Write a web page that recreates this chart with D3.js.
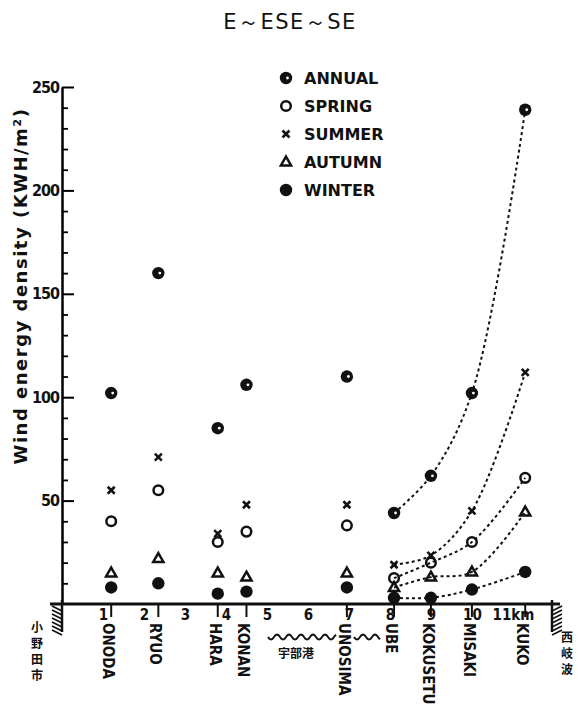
<!DOCTYPE html>
<html>
<head>
<meta charset="utf-8">
<script src="https://cdn.jsdelivr.net/npm/d3@7"></script>
<style>
  body { margin: 0; background: #fff; }
  text { fill: #111; }
</style>
</head>
<body>
<div id="chart"></div>
<script>
// Station names and their distance along the coast (km)
var stations = ["ONODA", "RYUO", "HARA", "KONAN", "UNOSIMA", "UBE", "KOKUSETU", "MISAKI", "KUKO"];
var distances = [1.2, 2.35, 3.8, 4.5, 6.95, 8.1, 9.0, 10.0, 11.3];

// Wind energy density per season (KWH/m2)
var annual = [102, 160, 85, 106, 110, 44, 62, 102, 239];
var spring = [40, 55, 30, 35, 38, 12.5, 20, 30, 61];
var summer = [55, 71, 34, 48, 48, 19, 23.5, 45, 112];
var autumn = [15, 22, 15, 13, 15, 8, 13, 15.5, 44.5];
var winter = [8, 10, 5, 6, 8, 3, 3, 7, 15.5];

var seriesNames = ["ANNUAL", "SPRING", "SUMMER", "AUTUMN", "WINTER"];
var kmTicks = [1, 2, 3, 4, 5, 6, 7, 8, 9, 10, 11];
var yTicks = [50, 100, 150, 200, 250];

var width = 578;
var height = 706;

var svg = d3.select("#chart")
  .append("svg")
  .attr("width", width)
  .attr("height", height);

var x = d3.scaleLinear().domain([0, 12.1]).range([62, 558]);
var y = d3.scaleLinear().domain([0, 250]).range([604, 87]);

var condensed = "'Liberation Sans Narrow', 'DejaVu Sans Condensed', sans-serif";

// Title
svg.append("text")
  .attr("x", 290)
  .attr("y", 29)
  .attr("text-anchor", "middle")
  .style("font-family", "'DejaVu Sans', sans-serif")
  .style("font-size", "21px")
  .style("letter-spacing", "1.5px")
  .text("E～ESE～SE");

// Y axis: major ticks labelled, minor ticks every 10
var yAxis = svg.append("g")
  .attr("transform", "translate(" + x(0) + ",0)")
  .call(d3.axisLeft(y).tickValues(yTicks).tickSizeInner(-12).tickSizeOuter(0).tickPadding(3));
yAxis.select(".domain").attr("stroke-width", 2.5);
yAxis.selectAll(".tick line").attr("stroke-width", 2);
yAxis.selectAll("text")
  .style("font-family", condensed)
  .style("font-size", "16px")
  .style("font-weight", "bold")
  .style("letter-spacing", "-1px");

svg.append("g")
  .attr("transform", "translate(" + x(0) + ",0)")
  .call(d3.axisLeft(y).tickValues(d3.range(10, 250, 10).filter(function(d) { return d % 50 !== 0; }))
    .tickSizeInner(-6).tickSizeOuter(0).tickFormat(""))
  .call(function(g) { g.select(".domain").remove(); })
  .selectAll(".tick line").attr("stroke-width", 1.8);

// Y axis title
svg.append("text")
  .attr("transform", "translate(27,286) rotate(-90)")
  .attr("text-anchor", "middle")
  .style("font-family", "'DejaVu Sans', sans-serif")
  .style("font-size", "18px")
  .style("font-weight", "bold")
  .style("letter-spacing", "1.5px")
  .text("Wind  energy  density (KWH/m²)");

// X axis line
svg.append("line")
  .attr("x1", 50).attr("x2", 560)
  .attr("y1", y(0)).attr("y2", y(0))
  .attr("stroke", "#111")
  .attr("stroke-width", 3);

// Distance ticks (km)
var xAxis = svg.append("g")
  .attr("transform", "translate(0," + y(0) + ")")
  .call(d3.axisBottom(x).tickValues(kmTicks).tickSize(0).tickPadding(5)
    .tickFormat(function(d) { return d === 11 ? "11km" : d; }));
xAxis.select(".domain").remove();
xAxis.selectAll("text")
  .style("font-family", condensed)
  .style("font-size", "15px")
  .style("font-weight", "bold");

// Station ticks and names
svg.selectAll(".stick")
  .data(distances)
  .enter()
  .append("line")
  .attr("class", "stick")
  .attr("x1", function(d) { return x(d); })
  .attr("x2", function(d) { return x(d); })
  .attr("y1", y(0))
  .attr("y2", y(0) + 13)
  .attr("stroke", "#111")
  .attr("stroke-width", 2);

svg.selectAll(".sname")
  .data(stations)
  .enter()
  .append("text")
  .attr("class", "sname")
  .attr("transform", function(d, i) { return "translate(" + (x(distances[i]) - 8) + "," + (y(0) + 19) + ") rotate(90)"; })
  .style("font-family", "'DejaVu Sans Condensed', 'DejaVu Sans', sans-serif")
  .style("font-size", "15px")
  .style("font-weight", "bold")
  .text(function(d) { return d; });

// End walls (hatched)
function wall(x0, dir) {
  var g = svg.append("g");
  g.append("line")
    .attr("x1", x0).attr("x2", x0)
    .attr("y1", y(0) - 4).attr("y2", y(0) + 28)
    .attr("stroke", "#111").attr("stroke-width", 2.5);
  d3.range(0, 7).forEach(function(i) {
    var yy = y(0) + 2 + i * 4;
    g.append("line")
      .attr("x1", x0).attr("x2", x0 + dir * 10)
      .attr("y1", yy + 5).attr("y2", yy)
      .attr("stroke", "#111").attr("stroke-width", 1.6);
  });
}
wall(62, -1);
wall(552, 1);

// Place names at both ends
function vertText(str, xx, y0, size, step) {
  svg.append("g").selectAll("text")
    .data(str.split(""))
    .enter()
    .append("text")
    .attr("x", xx)
    .attr("y", function(d, i) { return y0 + i * step; })
    .attr("text-anchor", "middle")
    .style("font-family", "'Noto Sans CJK JP', sans-serif")
    .style("font-size", size + "px")
    .style("font-weight", "bold")
    .text(function(d) { return d; });
}
vertText("小野田市", 37, 632, 12, 16);
vertText("西岐波", 567, 642, 12, 16);

// Ube harbour (wavy coastline)
function wave(x1, x2, yy) {
  var pts = d3.range(x1, x2 + 0.1, 1).map(function(px) { return [px, yy + 2.5 * Math.sin((px - x1) / 12 * 2 * Math.PI)]; });
  svg.append("path")
    .attr("d", d3.line()(pts))
    .attr("fill", "none")
    .attr("stroke", "#111")
    .attr("stroke-width", 2);
}
wave(268, 336, 637);
wave(354, 380, 637);
svg.append("text")
  .attr("x", 296).attr("y", 658)
  .attr("text-anchor", "middle")
  .style("font-family", "'Noto Sans CJK JP', sans-serif")
  .style("font-size", "12px")
  .style("font-weight", "bold")
  .text("宇部港");

// Marker drawing
function marker(g, kind, cx, cy) {
  if (kind === "ANNUAL") {
    g.append("circle").attr("cx", cx).attr("cy", cy).attr("r", 6.2).attr("fill", "#111");
    g.append("circle").attr("cx", cx + 1.5).attr("cy", cy).attr("r", 1.4).attr("fill", "#fff");
  } else if (kind === "SPRING") {
    g.append("circle").attr("cx", cx).attr("cy", cy).attr("r", 4.8)
      .attr("fill", "none").attr("stroke", "#111").attr("stroke-width", 2.5);
  } else if (kind === "SUMMER") {
    g.append("path")
      .attr("d", "M" + (cx - 3.5) + "," + (cy - 3.5) + "L" + (cx + 3.5) + "," + (cy + 3.5) +
                 "M" + (cx + 3.5) + "," + (cy - 3.5) + "L" + (cx - 3.5) + "," + (cy + 3.5))
      .attr("stroke", "#111").attr("stroke-width", 2.6);
  } else if (kind === "AUTUMN") {
    g.append("path")
      .attr("d", d3.symbol().type(d3.symbolTriangle).size(45)())
      .attr("transform", "translate(" + cx + "," + (cy + 0.5) + ")")
      .attr("fill", "none").attr("stroke", "#111").attr("stroke-width", 2.5);
  } else {
    g.append("circle").attr("cx", cx).attr("cy", cy).attr("r", 6.2).attr("fill", "#111");
  }
}

var seriesValues = [annual, spring, summer, autumn, winter];

// Dotted curves for the eastern stations (UBE .. KUKO)
var curve = d3.line()
  .x(function(d) { return x(d[0]); })
  .y(function(d) { return y(d[1]); })
  .curve(d3.curveCatmullRom.alpha(0.5));

seriesValues.forEach(function(vals) {
  var pts = d3.range(5, 9).map(function(i) { return [distances[i], vals[i]]; });
  svg.append("path")
    .attr("d", curve(pts))
    .attr("fill", "none")
    .attr("stroke", "#111")
    .attr("stroke-width", 2)
    .attr("stroke-dasharray", "3,3");
});

// Points
var pointLayer = svg.append("g");
seriesValues.forEach(function(vals, s) {
  vals.forEach(function(v, i) {
    marker(pointLayer, seriesNames[s], x(distances[i]), y(v));
  });
});

// Legend
var legend = svg.append("g");
seriesNames.forEach(function(name, i) {
  var ly = 78 + i * 28;
  marker(legend, name, 286, ly);
  legend.append("text")
    .attr("x", 304)
    .attr("y", ly + 6)
    .style("font-family", "'DejaVu Sans', sans-serif")
    .style("font-size", "16px")
    .style("font-weight", "600")
    .text(name);
});
</script>
</body>
</html>
